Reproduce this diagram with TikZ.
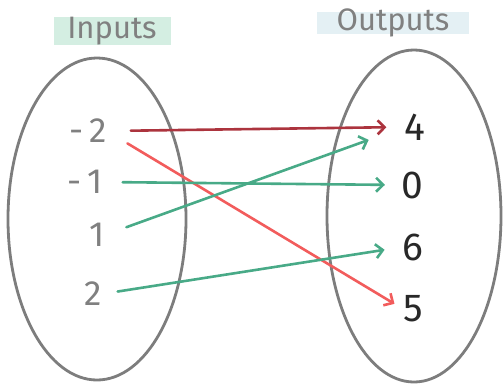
\documentclass[tikz,border=0pt]{standalone}
\usepackage{fontspec}
\setmainfont{Fira Sans}
\usetikzlibrary{arrows.meta, shapes.geometric}
\definecolor{pengray}{RGB}{125,125,125}
\definecolor{inkgray}{RGB}{128,128,128}
\definecolor{inkblack}{RGB}{40,40,40}
\definecolor{darkred}{RGB}{172,52,62}
\definecolor{salmonred}{RGB}{242,92,92}
\definecolor{mapgreen}{RGB}{72,170,135}
\definecolor{mintbg}{RGB}{212,238,226}
\definecolor{skybg}{RGB}{228,240,244}

\begin{document}
\begin{tikzpicture}[
    x=1pt, y=-1pt,
    set/.style={draw=pengray, line width=2.8pt, ellipse, inner sep=0pt},
    heading/.style={text=inkgray, font=\fontsize{31}{31}\selectfont, inner sep=0pt},
    innum/.style={text=inkgray, font=\fontsize{35}{35}\selectfont\addfontfeatures{Weight=Light}, inner sep=0pt},
    outnum/.style={text=inkblack, font=\fontsize{39}{39}\selectfont, inner sep=0pt},
    map/.style={line width=2.6pt, line cap=round,
        -{Straight Barb[length=7pt, width=14pt, line width=2.6pt]},
        shorten <=20pt, shorten >=18pt}
]
\useasboundingbox (0,0) rectangle (503,384);

% headings
\node[fill=mintbg, minimum width=117pt, minimum height=28pt] (hin) at (112,31) {};
\node[heading] at (hin) {Inputs};
\node[fill=skybg, minimum width=152pt, minimum height=22pt] (hout) at (393,23) {};
\node[heading] at (hout) {Outputs};

% the two sets
\node[set, minimum width=178pt, minimum height=322pt] (domain) at (97,219) {};
\node[set, minimum width=174pt, minimum height=332pt] (range) at (414,216) {};

% inputs
\node[innum] (im2) at (88,131) {-\,2};
\node[innum] (im1) at (85,182) {-\,1};
\node[innum] (ip1) at (97,235) {1};
\node[innum] (ip2) at (93,294) {2};

% outputs
\node[outnum] (o4) at (415,127) {4};
\node[outnum] (o0) at (412,185) {0};
\node[outnum] (o6) at (413,247) {6};
\node[outnum] (o5) at (413,309) {5};

% mapping
\draw[map, draw=darkred, shorten <=24pt] (im2.east) -- (o4.west);
\draw[map, draw=salmonred, shorten <=24pt, shorten >=10pt] (im2.east) -- (o5.west);
\draw[map, draw=mapgreen, shorten >=16pt] (im1.east) -- (o0.west);
\draw[map, draw=mapgreen, shorten <=23pt, shorten >=38pt] (ip1.east) -- (o4.west);
\draw[map, draw=mapgreen, shorten <=16pt] (ip2.east) -- (o6.west);

\end{tikzpicture}
\end{document}
